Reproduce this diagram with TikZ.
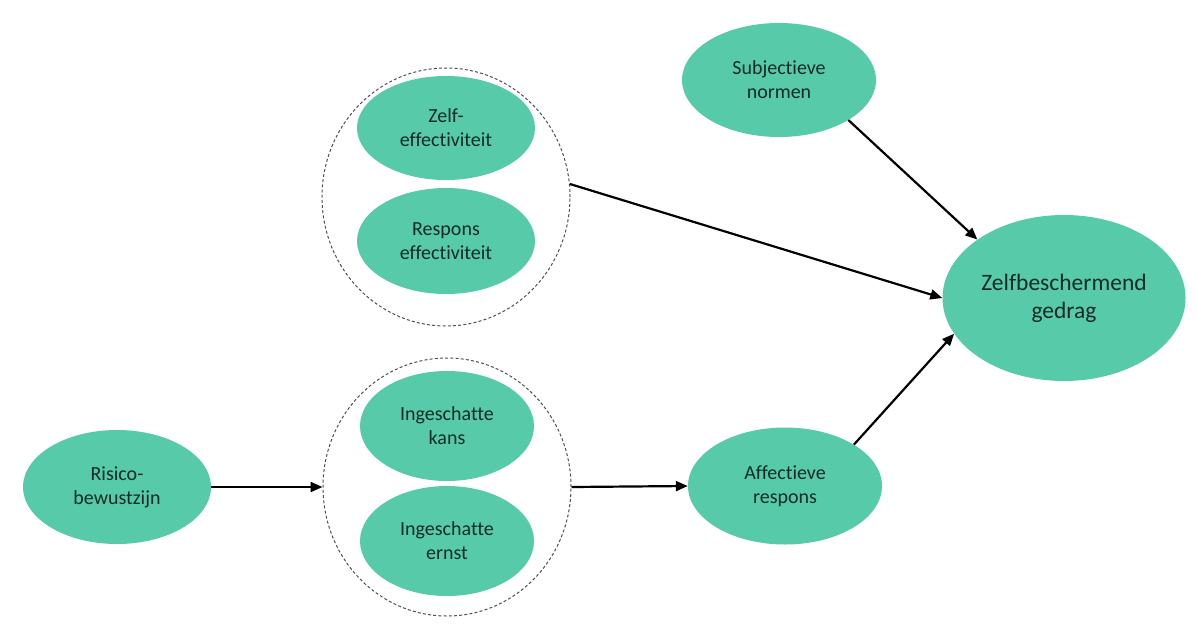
\documentclass[tikz,border=0pt]{standalone}
\usepackage{fontspec}
\setmainfont{Carlito}[Ligatures={NoCommon,NoRare,NoContextual}]
\usetikzlibrary{shapes.geometric,arrows.meta}
\definecolor{teal1}{RGB}{86,202,169}
\definecolor{txt}{RGB}{18,44,36}
\definecolor{dashgray}{RGB}{80,80,80}
\begin{document}
\begin{tikzpicture}[x=1pt,y=-1pt,
  blob/.style={ellipse,fill=teal1,draw=none,inner sep=0pt,align=center,text=txt,font=\fontsize{20}{24}\selectfont},
  group/.style={ellipse,draw=dashgray,dash pattern=on 3pt off 2.2pt,line width=1pt,inner sep=0pt,minimum width=248pt,minimum height=258pt},
  conn/.style={line width=2.2pt,-{Triangle[length=12pt,width=10pt]}}]
\useasboundingbox (0,0) rectangle (1198,627);
\node[group] (gtop) at (446,197) {};
\node[group] (gbot) at (447,487) {};
\node[blob,minimum width=178pt,minimum height=104pt] (zelf) at (446,128) {Zelf-\\effectiviteit};
\node[blob,minimum width=178pt,minimum height=106pt] (resp) at (446,241) {Respons\\effectiviteit};
\node[blob,minimum width=174pt,minimum height=110pt] (kans) at (447,426) {Ingeschatte\\kans};
\node[blob,minimum width=174pt,minimum height=110pt] (ernst) at (447,541) {Ingeschatte\\ernst};
\node[blob,minimum width=194pt,minimum height=114pt] (subj) at (779,80) {Subjectieve\\normen};
\node[blob,minimum width=243pt,minimum height=166pt,font=\fontsize{23.5}{28}\selectfont] (zb) at (1064,298) {Zelfbeschermend\\gedrag};
\node[blob,minimum width=188pt,minimum height=114pt] (risk) at (117,487) {Risico-\\bewustzijn};
\node[blob,minimum width=194pt,minimum height=117pt] (aff) at (785,486) {Affectieve\\respons};
\draw[conn] (risk.east) -- (gbot.west);
\draw[conn] (gbot.east) -- (aff.west);
\draw[conn] (aff.31) -- (zb.198);
\draw[conn] (gtop.6) -- (zb.west);
\draw[conn] (subj.-30) -- (zb.146);
\end{tikzpicture}
\end{document}
